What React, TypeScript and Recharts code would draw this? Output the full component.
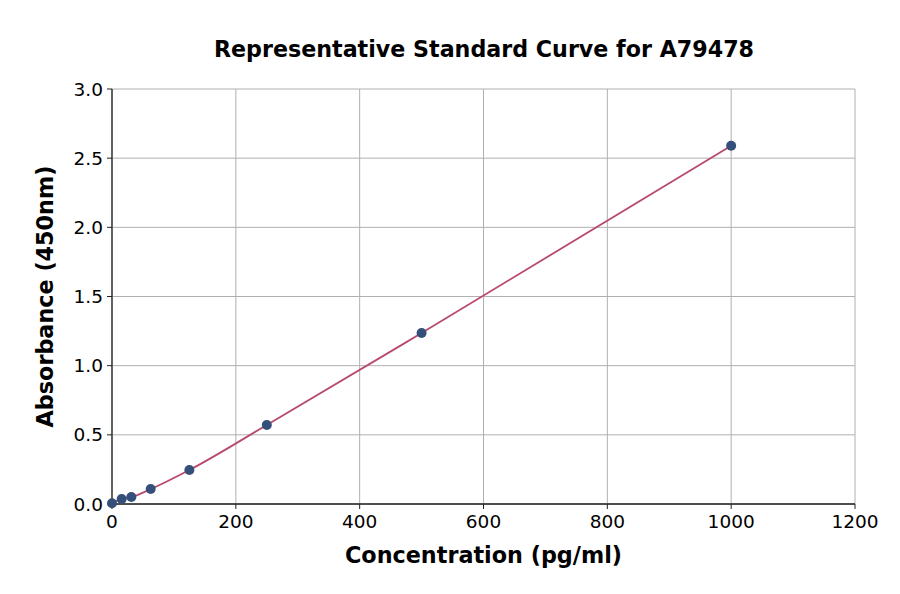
import React from "react";
import {
  ComposedChart,
  Line,
  XAxis,
  YAxis,
  CartesianGrid,
  Label,
} from "recharts";

const concentrations = [0, 15.6, 31.25, 62.5, 125, 250, 500, 1000];
const absorbance = [0.005, 0.036, 0.05, 0.108, 0.246, 0.571, 1.236, 2.59];

const xTicks = [0, 200, 400, 600, 800, 1000, 1200];
const yTicks = [0, 0.5, 1.0, 1.5, 2.0, 2.5, 3.0];

const data = concentrations.map((c, i) => ({ conc: c, abs: absorbance[i] }));

const font = "DejaVu Sans, sans-serif";
const axisColor = "#222";

export default function App() {
  return (
    <div style={{ position: "absolute", left: 0, top: 0, width: 900, height: 594, background: "#fff", fontFamily: font }}>
      <div
        style={{
          position: "absolute",
          top: 36,
          left: 0,
          width: 968,
          textAlign: "center",
          fontWeight: "bold",
          fontSize: 22.2,
          color: "#000",
        }}
      >
        Representative Standard Curve for A79478
      </div>
      <ComposedChart
        width={900}
        height={594}
        data={data}
        margin={{ top: 89, right: 45, bottom: 50, left: 0 }}
      >
        <CartesianGrid stroke="#b0b0b0" strokeWidth={1} />
        <XAxis
          dataKey="conc"
          type="number"
          domain={[0, 1200]}
          ticks={xTicks}
          height={40}
          tick={{ fill: "#000", fontSize: 18.5, fontFamily: font }}
          tickLine={{ stroke: axisColor }}
          axisLine={{ stroke: axisColor, strokeWidth: 1.3 }}
          tickSize={5}
          tickMargin={6}
        >
          <Label
            value="Concentration (pg/ml)"
            position="insideBottom"
            offset={-19}
            style={{ fontWeight: "bold", fontSize: 22.3, fill: "#000", fontFamily: font }}
          />
        </XAxis>
        <XAxis
          xAxisId="top"
          orientation="top"
          dataKey="conc"
          type="number"
          domain={[0, 1200]}
          ticks={xTicks}
          tick={false}
          tickLine={false}
          height={0}
          axisLine={{ stroke: axisColor, strokeWidth: 1.3 }}
        />
        <YAxis
          type="number"
          domain={[0, 3]}
          ticks={yTicks}
          width={112}
          tickFormatter={(v: number) => v.toFixed(1)}
          tick={{ fill: "#000", fontSize: 18.5, fontFamily: font }}
          tickLine={{ stroke: axisColor }}
          axisLine={{ stroke: axisColor, strokeWidth: 1.3 }}
          tickSize={5}
          tickMargin={4}
        >
          <Label
            value="Absorbance (450nm)"
            angle={-90}
            position="insideLeft"
            offset={45}
            style={{ fontWeight: "bold", fontSize: 22.3, fill: "#000", fontFamily: font, textAnchor: "middle" }}
          />
        </YAxis>
        <YAxis
          yAxisId="right"
          orientation="right"
          type="number"
          domain={[0, 3]}
          ticks={yTicks}
          width={0}
          tick={false}
          tickLine={false}
          axisLine={{ stroke: axisColor, strokeWidth: 1.3 }}
        />
        <Line
          type="monotone"
          dataKey="abs"
          stroke="#b84a6e"
          strokeWidth={1.8}
          dot={{ r: 5, fill: "#34507a", stroke: "#34507a", strokeWidth: 0 }}
          activeDot={false}
          isAnimationActive={false}
        />
      </ComposedChart>
    </div>
  );
}
